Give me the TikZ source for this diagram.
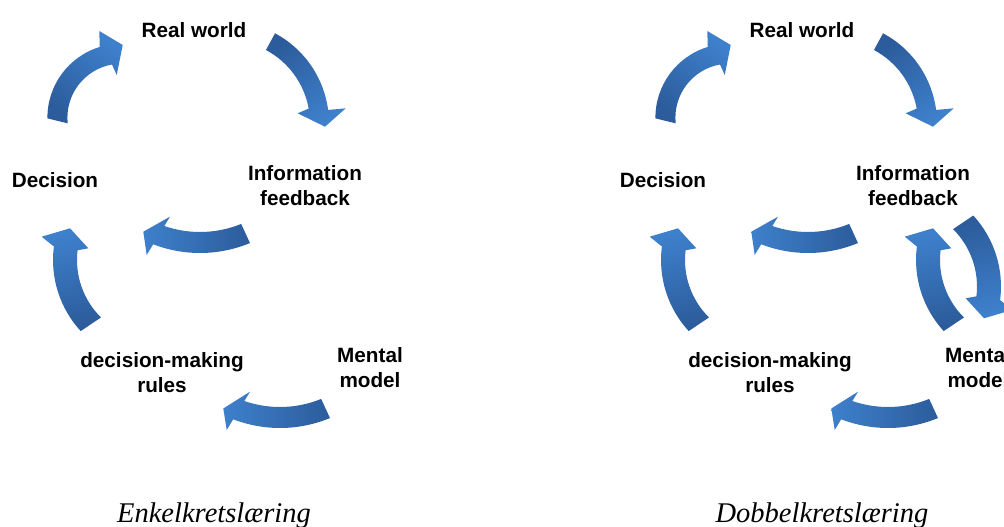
\documentclass[tikz,border=0pt]{standalone}
\usepackage{fontspec}
\newfontfamily\labelfont{Liberation Sans}
\newfontfamily\captionfont{Liberation Serif}
\usetikzlibrary{calc}

\definecolor{arrowdark}{RGB}{44,92,155}
\definecolor{arrowlight}{RGB}{62,128,204}

\tikzset{
  lbl/.style={font=\labelfont\bfseries\fontsize{20.7}{25}\selectfont,
    align=center, inner sep=0pt, anchor=base},
  captiontext/.style={font=\captionfont\itshape\fontsize{28.5}{30}\selectfont,
    inner sep=0pt, anchor=base},
  bentfill/.style={top color=arrowlight, bottom color=arrowdark, draw=none},
}

% curved block arrow:
% #1 centre, #2 inner radius, #3 outer radius,
% #4 tail angle (outer), #5 neck angle (outer),
% #6 tail angle (inner), #7 neck angle (inner),
% #8 head: outer wing -- tip -- inner wing, #9 shading angle
\newcommand{\bentarrow}[9]{%
  \path[bentfill, shading angle=#9]
    ($#1+(#4:#3)$) arc[start angle=#4, end angle=#5, radius=#3pt]
    -- #8 --
    ($#1+(#7:#2)$) arc[start angle=#7, end angle=#6, radius=#2pt]
    -- cycle;}

% the common five-step loop, #1 = name prefix
% (two-line labels are placed by the baseline of their last line)
\newcommand{\loopdiagram}[1]{%
  \node[lbl] (#1rw) at (194,37.5) {Real world};
  \node[lbl] (#1dec) at (55,187.3) {Decision};
  \node[lbl] (#1info) at (305,205) {Information\\feedback};
  \node[lbl] (#1mm) at (370,387.5) {Mental\\model};
  \node[lbl] (#1dmr) at (162,392) {decision-making\\rules};
  % Decision -> Real world
  \bentarrow{(121.4,117.7)}{54}{74}{179.5}{253}{174}{260}%
    {(99.3,31) -- (122.7,45) -- (116.7,75)}{-36}
  % Real world -> Information feedback
  \bentarrow{(227,123.3)}{83}{102}{298.1}{352.5}{298}{349.8}%
    {(345.7,108.3) -- (325,126.7) -- (297.7,113.3)}{-146}
  % Information feedback -> Decision
  \bentarrow{(200,123)}{109}{130}{67.4}{111.1}{67.8}{109.1}%
    {(146.7,255) -- (143.3,231.7) -- (170,216.7)}{90}
  % Mental model -> decision-making rules
  \bentarrow{(280,298)}{109}{130}{67.4}{111.1}{67.8}{109.1}%
    {(226.7,430) -- (223.3,408.5) -- (250,391.7)}{90}
  % decision-making rules -> Decision
  \bentarrow{(158,260)}{81}{105}{137.4}{187.4}{134.8}{186.9}%
    {(41.7,236.7) -- (70,228.3) -- (88.3,248.3)}{14.5}
}

\begin{document}
\begin{tikzpicture}[x=1pt, y=1pt, yscale=-1]
  \clip (0,0) rectangle (1004,527);
  \fill[white] (0,0) rectangle (1004,527);

  % single-loop learning
  \loopdiagram{L}
  \node[captiontext] (capL) at (214,522) {Enkelkretslæring};

  % double-loop learning
  \begin{scope}[xshift=608pt]
    \loopdiagram{R}
    % Mental model -> Information feedback
    \bentarrow{(413,260)}{81}{105}{137.4}{187.4}{134.8}{186.9}%
      {(296.7,236.7) -- (325,228.3) -- (343.3,248.3)}{14.5}
    % Information feedback -> Mental model
    \bentarrow{(288,286.6)}{81}{105}{317.4}{367.4}{314.8}{366.9}%
      {(404.3,309.9) -- (376,318.3) -- (357.7,298.3)}{-165.5}
    \node[captiontext] (capR) at (214,522) {Dobbelkretslæring};
  \end{scope}
\end{tikzpicture}
\end{document}
